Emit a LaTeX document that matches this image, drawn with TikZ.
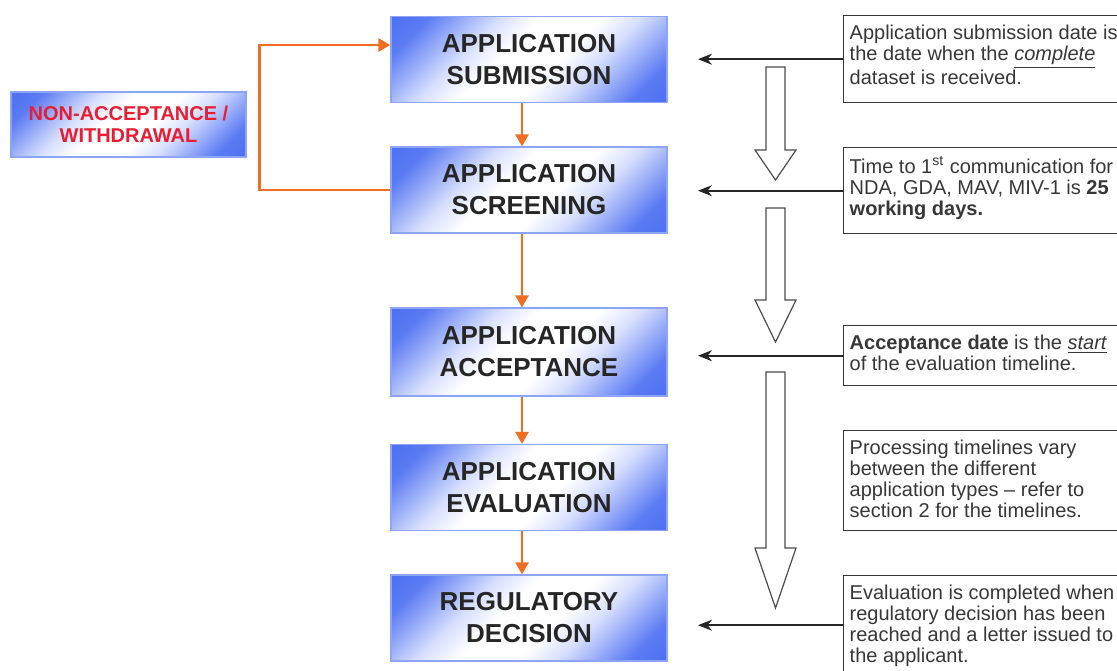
\documentclass[tikz,border=0pt]{standalone}
\usepackage{fontspec}
\setmainfont{Liberation Sans}
\usetikzlibrary{arrows.meta,positioning}
\definecolor{stepblue}{RGB}{50,90,240}
\definecolor{flow}{RGB}{240,110,35}
\definecolor{notegray}{RGB}{55,55,55}
\definecolor{rejectred}{RGB}{232,28,50}

% blue corners, white band along the diagonal
\pgfdeclareverticalshading{stageshade}{100bp}{color(0bp)=(stepblue); color(22bp)=(stepblue!80);
  color(36bp)=(stepblue!20); color(44bp)=(white); color(56bp)=(white); color(64bp)=(stepblue!20);
  color(78bp)=(stepblue!80); color(100bp)=(stepblue)}

\tikzset{
  stage/.style={draw=stepblue!55, line width=0.6pt,
    shading=stageshade, shading angle=45,
    minimum width=138pt, minimum height=43pt, align=center,
    font=\fontsize{13}{16}\selectfont\bfseries, text=black!85},
  note/.style={draw=notegray, line width=0.7pt, anchor=north west,
    inner xsep=3pt, inner ysep=4.5pt, font=\fontsize{10}{10.5}\selectfont, text=notegray},
  flowarrow/.style={flow, line width=1.3pt, -{Triangle[length=6pt,width=6.5pt]}},
  notearrow/.style={black!85, line width=1pt, -{Stealth[length=7pt,width=5.5pt]}},
  timeline/.style={gray!60!black, line width=0.6pt, fill=white},
}
\newcommand{\notetext}[2]{\parbox[t][#1][t]{137pt}{\raggedright #2}}

\begin{document}
\begin{tikzpicture}[x=0.5pt,y=-0.5pt]
  \useasboundingbox (0,0) rectangle (1117,670);

  % --- Stages of the application ---
  \node[stage] (submit) at (529,59.5) {APPLICATION\\SUBMISSION};
  \node[stage] (screen) at (529,190) {APPLICATION\\SCREENING};
  \node[stage, minimum height=44pt] (accept) at (529,352) {APPLICATION\\ACCEPTANCE};
  \node[stage] (evaluate) at (529,487.5) {APPLICATION\\EVALUATION};
  \node[stage] (decide) at (529,618) {REGULATORY\\DECISION};

  % --- Rejected path ---
  \node[stage, minimum width=117.5pt, minimum height=32.5pt,
    font=\fontsize{10}{11}\selectfont\bfseries, text=rejectred] (reject) at (128.5,124.5) {NON-ACCEPTANCE /\\WITHDRAWAL};

  % Orange flow between the stages
  \foreach \a/\b in {submit/screen, screen/accept, accept/evaluate, evaluate/decide} {
    \draw[flowarrow] ([xshift=-3.5pt]\a.south) -- ([xshift=-3.5pt]\b.north);
  }
  \draw[flowarrow] (screen.west) -- ++(-131,0) |- ([yshift=7.25pt]submit.west);

  % --- Timeline arrows (hollow) ---
  \foreach \ytop/\ybase/\ytip in {67/150/180, 208/300/342, 372/548/608} {
    \draw[timeline] (766,\ytop) -- (785,\ytop) -- (785,\ybase) -- (796,\ybase)
      -- (775.5,\ytip) -- (755,\ybase) -- (766,\ybase) -- cycle;
  }

  % --- Notes on the right ---
  \node[note] (n1) at (843,15) {\notetext{34.5pt}{Application submission date is\\the date when the \underline{\textit{complete}}\\dataset is received.}};
  \node[note] (n2) at (843,147) {\notetext{34pt}{Time to 1\textsuperscript{st} communication for\\NDA, GDA, MAV, MIV-1 is \textbf{25}\\\textbf{working days.}}};
  \node[note] (n3) at (843,325) {\notetext{21pt}{\textbf{Acceptance date} is the \underline{\textit{start}}\\of the evaluation timeline.}};
  \node[note] (n4) at (843,430) {\notetext{41pt}{Processing timelines vary\\between the different\\application types -- refer to\\section 2 for the timelines.}};
  \node[note] (n5) at (843,575) {\notetext{40.5pt}{Evaluation is completed when\\regulatory decision has been\\reached and a letter issued to\\the applicant.}};

  % Arrows from the notes
  \coordinate (tipx) at (698,0);
  \foreach \n in {n1, n2, n3, n5} {
    \draw[notearrow] (\n.west) -- (\n.west -| tipx);
  }
\end{tikzpicture}
\end{document}
